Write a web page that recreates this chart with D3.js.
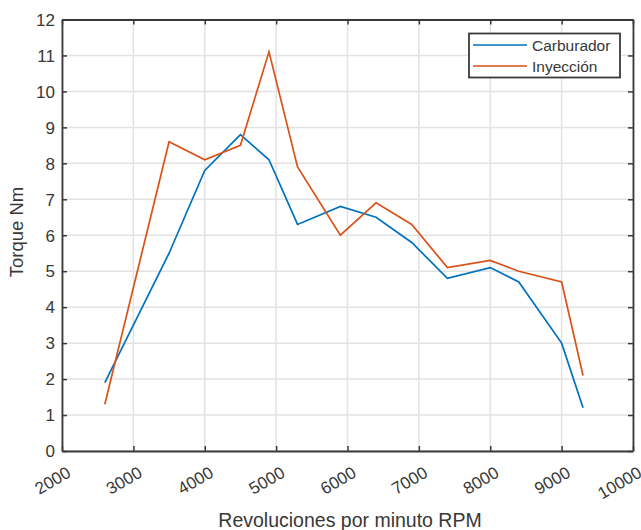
<!DOCTYPE html>
<html>
<head>
<meta charset="utf-8">
<script src="https://cdn.jsdelivr.net/npm/d3@7"></script>
<style>
  body { margin: 0; background: #fff; }
  text { font-family: "Liberation Sans", Arial, sans-serif; }
</style>
</head>
<body>
<script>
// rpm values shared by both series
const rpm = [2600, 3500, 4000, 4500, 4900, 5300, 5900, 6400, 6900, 7400, 8000, 8400, 9000, 9300];
const carburador = [1.9, 5.5, 7.8, 8.8, 8.1, 6.3, 6.8, 6.5, 5.8, 4.8, 5.1, 4.7, 3.0, 1.2];
const inyeccion = [1.3, 8.6, 8.1, 8.5, 11.1, 7.9, 6.0, 6.9, 6.3, 5.1, 5.3, 5.0, 4.7, 2.1];
const seriesNames = ["Carburador", "Inyección"];
const xTicks = [2000, 3000, 4000, 5000, 6000, 7000, 8000, 9000, 10000];
const yTicks = [0, 1, 2, 3, 4, 5, 6, 7, 8, 9, 10, 11, 12];

const width = 641;
const height = 530;
const padLeft = 62, padRight = 633, padTop = 19.5, padBottom = 451;
const colors = ["#0072BD", "#D95319"];
const axisColor = "#3a3a3a";
const textColor = "#383838";

const svg = d3.select("body")
  .append("svg")
  .attr("width", width)
  .attr("height", height);

const xScale = d3.scaleLinear().domain([2000, 10000]).range([padLeft, padRight]);
const yScale = d3.scaleLinear().domain([0, 12]).range([padBottom, padTop]);

// grid
svg.append("g")
  .selectAll("line")
  .data(xTicks)
  .join("line")
  .attr("x1", d => xScale(d)).attr("x2", d => xScale(d))
  .attr("y1", padTop).attr("y2", padBottom)
  .attr("stroke", "#e2e2e2")
  .attr("stroke-width", 1.5);

svg.append("g")
  .selectAll("line")
  .data(yTicks)
  .join("line")
  .attr("x1", padLeft).attr("x2", padRight)
  .attr("y1", d => yScale(d)).attr("y2", d => yScale(d))
  .attr("stroke", "#e2e2e2")
  .attr("stroke-width", 1.5);

// series
const line = d3.line()
  .x((d, i) => xScale(rpm[i]))
  .y(d => yScale(d));

[carburador, inyeccion].forEach((vals, k) => {
  svg.append("path")
    .datum(vals)
    .attr("d", line)
    .attr("fill", "none")
    .attr("stroke", colors[k])
    .attr("stroke-width", 1.7)
    .attr("stroke-linejoin", "miter");
});

// axes
const xAxis = d3.axisBottom(xScale).tickValues(xTicks).tickSizeInner(-5).tickSizeOuter(0).tickFormat(d3.format("d"));
const yAxis = d3.axisLeft(yScale).tickValues(yTicks).tickSizeInner(-5).tickSizeOuter(0).tickFormat(d3.format("d"));

const gx = svg.append("g")
  .attr("transform", "translate(0," + padBottom + ")")
  .call(xAxis);
gx.selectAll("text")
  .attr("font-size", 17)
  .attr("fill", textColor)
  .attr("text-anchor", "end")
  .attr("y", 0)
  .attr("dy", null)
  .attr("transform", "translate(9.5,25) rotate(-30)");

const gy = svg.append("g")
  .attr("transform", "translate(" + padLeft + ",0)")
  .call(yAxis);
gy.selectAll("text")
  .attr("font-size", 17)
  .attr("fill", textColor)
  .attr("x", -7)
  .attr("dy", "0.34em");

// top and right ticks
svg.append("g")
  .attr("transform", "translate(0," + padTop + ")")
  .call(d3.axisTop(xScale).tickValues(xTicks).tickSizeInner(-5).tickSizeOuter(0).tickFormat(""));
svg.append("g")
  .attr("transform", "translate(" + padRight + ",0)")
  .call(d3.axisRight(yScale).tickValues(yTicks).tickSizeInner(-5).tickSizeOuter(0).tickFormat(""));

svg.selectAll(".domain").attr("stroke", axisColor).attr("stroke-width", 1.8);
svg.selectAll(".tick line").attr("stroke", axisColor).attr("stroke-width", 1.5);

// axis labels
svg.append("text")
  .attr("x", 350)
  .attr("y", 526.5)
  .attr("text-anchor", "middle")
  .attr("font-size", 19.5)
  .attr("fill", textColor)
  .text("Revoluciones por minuto RPM");

svg.append("text")
  .attr("transform", "translate(23," + 232 + ") rotate(-90)")
  .attr("text-anchor", "middle")
  .attr("font-size", 18.5)
  .attr("fill", textColor)
  .text("Torque Nm");

// legend
const legend = svg.append("g");
legend.append("rect")
  .attr("x", 469).attr("y", 33.5)
  .attr("width", 151).attr("height", 44)
  .attr("fill", "white")
  .attr("stroke", axisColor)
  .attr("stroke-width", 1.8);

seriesNames.forEach((name, k) => {
  const yy = 45 + k * 21;
  legend.append("line")
    .attr("x1", 473).attr("x2", 527)
    .attr("y1", yy).attr("y2", yy)
    .attr("stroke", colors[k])
    .attr("stroke-width", 1.7);
  legend.append("text")
    .attr("x", 532)
    .attr("y", yy + 6)
    .attr("font-size", 15.5)
    .attr("fill", textColor)
    .text(name);
});
</script>
</body>
</html>
